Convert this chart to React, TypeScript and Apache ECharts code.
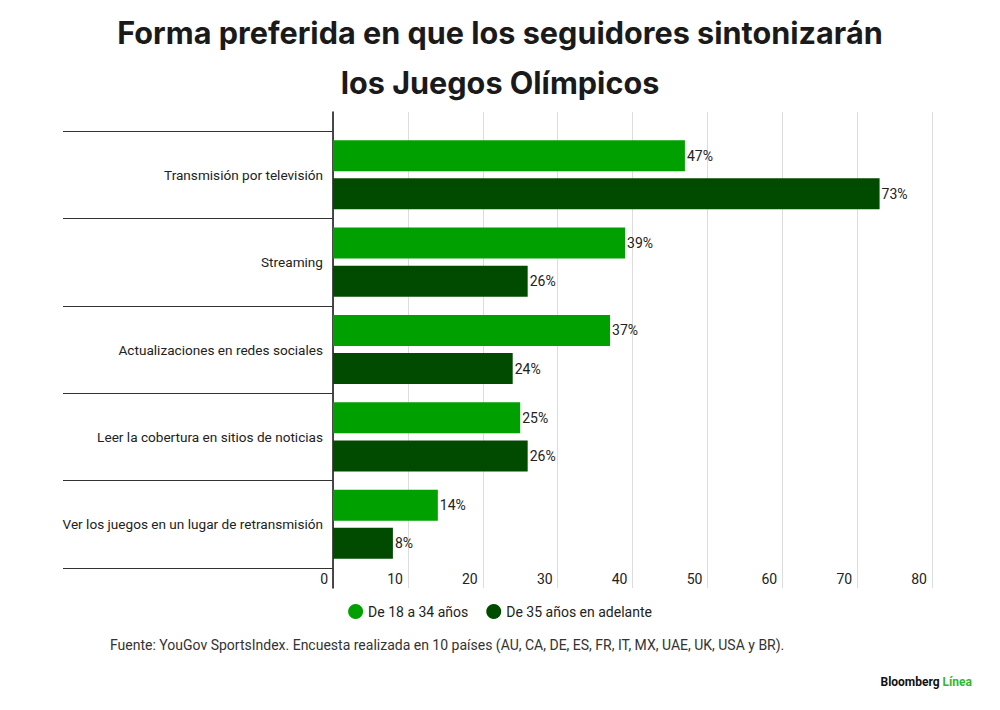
import React, { useEffect, useRef } from "react";
import * as echarts from "echarts";

const categories = [
  "Transmisión por televisión",
  "Streaming",
  "Actualizaciones en redes sociales",
  "Leer la cobertura en sitios de noticias",
  "Ver los juegos en un lugar de retransmisión",
];
const young = [47, 39, 37, 25, 14];
const older = [73, 26, 24, 26, 8];
const seriesNames = ["De 18 a 34 años", "De 35 años en adelante"];
const xMin = 0;
const xMax = 80;
const xInterval = 10;

const titleLines = [
  "Forma preferida en que los seguidores sintonizarán",
  "los Juegos Olímpicos",
];
const sourceText =
  "Fuente: YouGov SportsIndex. Encuesta realizada en 10 países (AU, CA, DE, ES, FR, IT, MX, UAE, UK, USA y BR).";

const LIGHT = "#00a000";
const DARK = "#004b00";
const TFONT = "Inter, 'Noto Sans', sans-serif";
const FONT = "Roboto, 'Noto Sans', sans-serif";

export default function App() {
  const ref = useRef<HTMLDivElement>(null);
  useEffect(() => {
    if (!ref.current) return;
    const chart = echarts.init(ref.current, null, { renderer: "svg" });
    const labelStyle = {
      show: true,
      position: "right",
      distance: 2,
      formatter: "{c}%",
      fontSize: 14,
      color: "#222",
      fontFamily: FONT,
    };
    chart.setOption({
      animation: false,
      backgroundColor: "#ffffff",
      textStyle: { fontFamily: FONT },
      title: titleLines.map((t, i) => ({
        text: t,
        left: "center",
        top: 12 + i * 50,
        textStyle: {
          fontFamily: TFONT,
          fontSize: 30.6,
          fontWeight: "bold",
          color: "#1a1a1a",
        },
      })),
      legend: {
        data: seriesNames,
        bottom: 86,
        left: "center",
        icon: "circle",
        itemWidth: 15,
        itemHeight: 15,
        itemGap: 18,
        textStyle: { fontSize: 14, color: "#222", fontFamily: FONT },
      },
      grid: [
        { left: 333, right: 68, top: 112, bottom: 122 },
        { left: 333, right: 68, top: 131, bottom: 142 },
      ],
      xAxis: [
        {
          gridIndex: 0,
          type: "value",
          min: xMin,
          max: xMax,
          interval: xInterval,
          axisLine: { show: false },
          axisTick: { show: false },
          axisLabel: { show: false },
          splitLine: { show: true, lineStyle: { color: "#dcdcdc", width: 1 } },
        },
        {
          gridIndex: 1,
          type: "value",
          min: xMin,
          max: xMax,
          interval: xInterval,
          axisLine: { show: false },
          axisTick: { show: false },
          splitLine: { show: false },
          axisLabel: {
            show: true,
            align: "right",
            margin: 4,
            padding: [0, 5, 0, 0],
            fontSize: 14,
            color: "#222",
            fontFamily: FONT,
          },
        },
      ],
      yAxis: [
        {
          gridIndex: 0,
          type: "value",
          min: 0,
          max: 1,
          axisLine: { show: true, lineStyle: { color: "#111", width: 1.5 } },
          axisTick: { show: false },
          axisLabel: { show: false },
          splitLine: { show: false },
        },
        {
          gridIndex: 1,
          type: "category",
          data: categories,
          inverse: true,
          axisLine: { show: false },
          axisTick: {
            show: true,
            length: 270,
            lineStyle: { color: "#333", width: 1.2 },
          },
          axisLabel: {
            margin: 10,
            fontSize: 13.6,
            color: "#222",
            fontFamily: FONT,
          },
        },
      ],
      series: [
        {
          name: seriesNames[0],
          type: "bar",
          xAxisIndex: 1,
          yAxisIndex: 1,
          data: young,
          barWidth: 31,
          barGap: "23%",
          itemStyle: { color: LIGHT },
          label: labelStyle,
        },
        {
          name: seriesNames[1],
          type: "bar",
          xAxisIndex: 1,
          yAxisIndex: 1,
          data: older,
          barWidth: 31,
          barGap: "23%",
          itemStyle: { color: DARK },
          label: labelStyle,
        },
      ],
      graphic: [
        {
          type: "text",
          left: 110,
          top: 638,
          style: {
            text: sourceText,
            fontSize: 14,
            fill: "#333",
            fontFamily: FONT,
          },
        },
        {
          type: "text",
          right: 28,
          top: 676,
          style: {
            rich: {
              a: { fontSize: 12, fontWeight: "bold", fill: "#111", fontFamily: FONT },
              b: { fontSize: 12, fontWeight: "bold", fill: "#2eb82e", fontFamily: FONT },
            },
            text: "{a|Bloomberg }{b|Línea}",
          },
        },
      ],
    });
    return () => chart.dispose();
  }, []);
  return <div ref={ref} style={{ width: 1000, height: 710, margin: -8 }} />;
}
